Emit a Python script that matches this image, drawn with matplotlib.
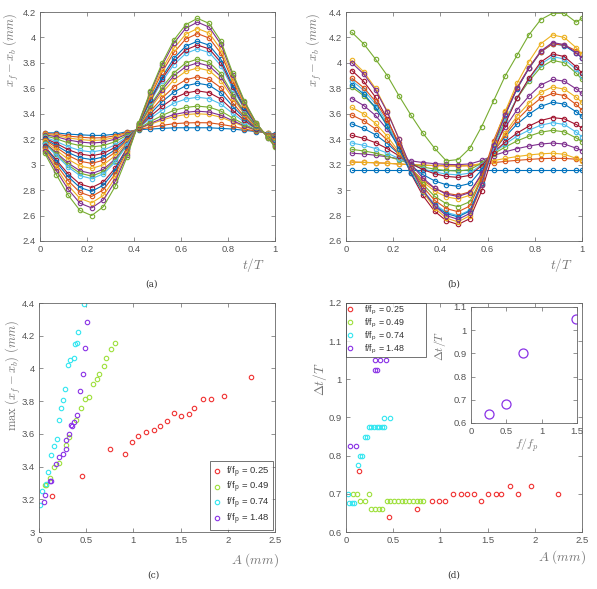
import matplotlib
matplotlib.use('Agg')
import matplotlib.pyplot as plt
from matplotlib.ticker import FuncFormatter, MultipleLocator

plt.rcParams['font.family'] = ['Liberation Sans', 'DejaVu Sans']
plt.rcParams['mathtext.fontset'] = 'cm'

# ---------------- data: panel (a)  (f/fp = 0.49) ----------------
t_a = [0.02, 0.07, 0.12, 0.17, 0.22, 0.27, 0.32, 0.37, 0.42, 0.47, 0.52,
       0.57, 0.62, 0.67, 0.72, 0.77, 0.82, 0.87, 0.92, 0.97, 1.00]
a01 = [3.25, 3.25, 3.24, 3.235, 3.23, 3.23, 3.24, 3.26, 3.275, 3.28, 3.285, 3.29, 3.29, 3.29, 3.29, 3.285, 3.28, 3.27, 3.26, 3.25, 3.24]
a02 = [3.245, 3.239, 3.225, 3.216, 3.21, 3.212, 3.227, 3.254, 3.277, 3.294, 3.309, 3.322, 3.328, 3.33, 3.329, 3.317, 3.301, 3.281, 3.263, 3.248, 3.235]
a03 = [3.24, 3.229, 3.21, 3.198, 3.19, 3.195, 3.214, 3.247, 3.28, 3.318, 3.351, 3.378, 3.394, 3.40, 3.395, 3.373, 3.336, 3.299, 3.269, 3.245, 3.227]
a04 = [3.235, 3.219, 3.194, 3.178, 3.17, 3.177, 3.201, 3.241, 3.282, 3.325, 3.363, 3.394, 3.412, 3.42, 3.414, 3.388, 3.346, 3.305, 3.271, 3.244, 3.225]
a05 = [3.227, 3.203, 3.171, 3.15, 3.14, 3.15, 3.181, 3.231, 3.284, 3.339, 3.387, 3.427, 3.45, 3.46, 3.452, 3.421, 3.367, 3.316, 3.274, 3.242, 3.22]
a06 = [3.217, 3.182, 3.141, 3.112, 3.10, 3.115, 3.156, 3.219, 3.288, 3.364, 3.429, 3.483, 3.516, 3.53, 3.519, 3.476, 3.403, 3.334, 3.28, 3.239, 3.212]
a07 = [3.209, 3.166, 3.118, 3.084, 3.07, 3.088, 3.136, 3.209, 3.291, 3.381, 3.459, 3.523, 3.563, 3.58, 3.566, 3.516, 3.428, 3.348, 3.284, 3.237, 3.206]
a08 = [3.202, 3.15, 3.095, 3.055, 3.04, 3.061, 3.116, 3.20, 3.295, 3.402, 3.495, 3.571, 3.62, 3.64, 3.624, 3.564, 3.459, 3.364, 3.288, 3.234, 3.199]
a09 = [3.194, 3.135, 3.072, 3.027, 3.01, 3.035, 3.097, 3.19, 3.297, 3.42, 3.524, 3.611, 3.667, 3.69, 3.671, 3.604, 3.485, 3.377, 3.293, 3.231, 3.193]
a10 = [3.184, 3.114, 3.042, 2.989, 2.97, 2.999, 3.071, 3.177, 3.301, 3.444, 3.567, 3.667, 3.733, 3.76, 3.739, 3.66, 3.521, 3.396, 3.298, 3.228, 3.185]
a11 = [3.174, 3.093, 3.012, 2.952, 2.93, 2.963, 3.045, 3.165, 3.304, 3.458, 3.59, 3.699, 3.77, 3.80, 3.776, 3.691, 3.541, 3.406, 3.302, 3.226, 3.181]
a12 = [3.169, 3.082, 2.996, 2.933, 2.91, 2.946, 3.032, 3.158, 3.306, 3.468, 3.608, 3.723, 3.799, 3.83, 3.805, 3.715, 3.556, 3.414, 3.304, 3.225, 3.177]
a13 = [3.164, 3.072, 2.981, 2.914, 2.89, 2.928, 3.019, 3.152, 3.31, 3.496, 3.656, 3.787, 3.874, 3.91, 3.881, 3.779, 3.597, 3.436, 3.31, 3.221, 3.168]
a14 = [3.146, 3.035, 2.928, 2.848, 2.82, 2.865, 2.973, 3.13, 3.314, 3.507, 3.674, 3.812, 3.902, 3.94, 3.91, 3.803, 3.613, 3.444, 3.313, 3.22, 3.164]
a15 = [3.138, 3.02, 2.905, 2.82, 2.79, 2.839, 2.954, 3.12, 3.316, 3.517, 3.692, 3.836, 3.931, 3.97, 3.939, 3.827, 3.628, 3.452, 3.315, 3.218, 3.161]
a16 = [3.128, 2.999, 2.874, 2.782, 2.75, 2.803, 2.928, 3.108, 3.32, 3.538, 3.728, 3.883, 3.987, 4.03, 3.995, 3.874, 3.658, 3.468, 3.32, 3.216, 3.154]
a17 = [3.115, 2.972, 2.836, 2.735, 2.70, 2.759, 2.895, 3.092, 3.323, 3.552, 3.752, 3.916, 4.025, 4.07, 4.034, 3.906, 3.679, 3.479, 3.323, 3.214, 3.149]
a18 = [3.105, 2.951, 2.806, 2.697, 2.66, 2.723, 2.869, 3.079, 3.326, 3.57, 3.782, 3.956, 4.072, 4.12, 4.081, 3.946, 3.705, 3.492, 3.328, 3.211, 3.143]
a19 = [3.09, 2.92, 2.76, 2.64, 2.60, 2.67, 2.83, 3.06, 3.33, 3.58, 3.80, 3.98, 4.10, 4.15, 4.11, 3.97, 3.72, 3.50, 3.33, 3.21, 3.14]
curves_a = [a01, a02, a03, a04, a05, a06, a07, a08, a09, a10,
            a11, a12, a13, a14, a15, a16, a17, a18, a19]

# ---------------- data: panel (b)  (f/fp = 0.74) ----------------
t_b = [0.025, 0.075, 0.125, 0.175, 0.225, 0.275, 0.325, 0.375, 0.425, 0.475, 0.525,
       0.575, 0.625, 0.675, 0.725, 0.775, 0.825, 0.875, 0.925, 0.975, 1.00]
b01 = [3.16, 3.16, 3.16, 3.16, 3.16, 3.16, 3.16, 3.16, 3.16, 3.16, 3.16, 3.16, 3.16, 3.16, 3.16, 3.16, 3.16, 3.16, 3.16, 3.16, 3.16]
b02 = [3.22, 3.218, 3.215, 3.211, 3.205, 3.20, 3.196, 3.193, 3.191, 3.19, 3.192, 3.202, 3.215, 3.226, 3.234, 3.241, 3.247, 3.25, 3.249, 3.243, 3.24]
b03 = [3.22, 3.218, 3.215, 3.211, 3.205, 3.20, 3.196, 3.193, 3.191, 3.19, 3.193, 3.21, 3.232, 3.249, 3.264, 3.276, 3.285, 3.29, 3.282, 3.25, 3.23]
b04 = [3.29, 3.284, 3.274, 3.262, 3.246, 3.23, 3.217, 3.208, 3.202, 3.20, 3.206, 3.233, 3.272, 3.301, 3.326, 3.346, 3.362, 3.37, 3.362, 3.33, 3.31]
b05 = [3.32, 3.308, 3.291, 3.266, 3.237, 3.206, 3.182, 3.165, 3.154, 3.15, 3.161, 3.213, 3.285, 3.339, 3.387, 3.424, 3.455, 3.47, 3.458, 3.41, 3.38]
b06 = [3.37, 3.352, 3.327, 3.291, 3.248, 3.203, 3.167, 3.142, 3.126, 3.12, 3.134, 3.201, 3.293, 3.363, 3.424, 3.471, 3.51, 3.53, 3.516, 3.456, 3.42]
b07 = [3.43, 3.407, 3.373, 3.326, 3.269, 3.209, 3.162, 3.129, 3.108, 3.10, 3.116, 3.193, 3.298, 3.378, 3.448, 3.503, 3.547, 3.57, 3.56, 3.516, 3.49]
b08 = [3.52, 3.485, 3.435, 3.366, 3.281, 3.192, 3.123, 3.073, 3.042, 3.03, 3.052, 3.16, 3.309, 3.421, 3.519, 3.596, 3.658, 3.69, 3.676, 3.616, 3.58]
b09 = [3.59, 3.545, 3.481, 3.392, 3.283, 3.169, 3.079, 3.015, 2.975, 2.96, 2.987, 3.118, 3.298, 3.434, 3.553, 3.646, 3.722, 3.76, 3.743, 3.673, 3.63]
b10 = [3.65, 3.599, 3.525, 3.423, 3.299, 3.168, 3.066, 2.993, 2.947, 2.93, 2.96, 3.103, 3.301, 3.451, 3.582, 3.684, 3.768, 3.81, 3.794, 3.73, 3.69]
b11 = [3.72, 3.665, 3.587, 3.477, 3.344, 3.205, 3.096, 3.017, 2.968, 2.95, 2.981, 3.131, 3.338, 3.495, 3.632, 3.738, 3.826, 3.87, 3.856, 3.796, 3.76]
b12 = [3.81, 3.743, 3.647, 3.514, 3.351, 3.181, 3.048, 2.952, 2.893, 2.87, 2.909, 3.097, 3.355, 3.551, 3.722, 3.856, 3.965, 4.02, 4.001, 3.92, 3.87]
b13 = [3.86, 3.785, 3.677, 3.526, 3.343, 3.151, 3.00, 2.892, 2.825, 2.80, 2.843, 3.046, 3.328, 3.54, 3.726, 3.871, 3.99, 4.05, 4.03, 3.95, 3.90]
b14 = [3.94, 3.854, 3.731, 3.559, 3.35, 3.131, 2.959, 2.835, 2.759, 2.73, 2.776, 2.994, 3.295, 3.523, 3.723, 3.878, 4.006, 4.07, 4.05, 3.97, 3.92]
b15 = [3.83, 3.756, 3.65, 3.502, 3.322, 3.134, 2.987, 2.88, 2.815, 2.79, 2.836, 3.058, 3.364, 3.595, 3.798, 3.956, 4.085, 4.15, 4.136, 4.076, 4.04]
b16 = [3.88, 3.805, 3.698, 3.549, 3.368, 3.178, 3.028, 2.921, 2.855, 2.83, 2.875, 3.09, 3.387, 3.611, 3.808, 3.961, 4.087, 4.15, 4.14, 4.096, 4.07]
b17 = [4.02, 3.93, 3.80, 3.62, 3.40, 3.17, 2.99, 2.86, 2.78, 2.75, 2.80, 3.04, 3.37, 3.62, 3.84, 4.01, 4.15, 4.22, 4.20, 4.12, 4.07]
b18 = [4.00, 3.913, 3.787, 3.613, 3.40, 3.177, 3.002, 2.877, 2.80, 2.77, 2.817, 3.044, 3.357, 3.593, 3.80, 3.961, 4.093, 4.16, 4.144, 4.08, 4.04]
b19 = [4.24, 4.15, 4.03, 3.90, 3.74, 3.59, 3.45, 3.33, 3.23, 3.24, 3.33, 3.50, 3.70, 3.90, 4.06, 4.22, 4.34, 4.39, 4.39, 4.32, 4.35]
curves_b = [b01, b02, b03, b04, b05, b06, b07, b08, b09, b10,
            b11, b12, b13, b14, b15, b16, b17, b18, b19]

# ---------------- data: panel (c) ----------------
A_c_025 = [0.141, 0.451, 0.751, 0.906, 0.98, 1.054, 1.132, 1.213, 1.287, 1.354, 1.428, 1.509, 1.587, 1.643, 1.738, 1.82, 1.957, 2.25]
M_c_025 = [3.222, 3.344, 3.505, 3.479, 3.548, 3.589, 3.609, 3.626, 3.648, 3.681, 3.728, 3.711, 3.719, 3.758, 3.815, 3.815, 3.829, 3.946]
A_c_049 = [0.063, 0.074, 0.12, 0.159, 0.208, 0.283, 0.314, 0.389, 0.445, 0.487, 0.526, 0.569, 0.611, 0.639, 0.685, 0.713, 0.763, 0.805]
M_c_049 = [3.29, 3.29, 3.33, 3.40, 3.42, 3.53, 3.583, 3.685, 3.758, 3.815, 3.827, 3.907, 3.937, 3.966, 4.015, 4.064, 4.117, 4.154]
A_c_074 = [0.015, 0.037, 0.071, 0.095, 0.131, 0.159, 0.191, 0.212, 0.23, 0.251, 0.272, 0.311, 0.332, 0.367, 0.378, 0.406, 0.41, 0.477]
M_c_074 = [3.165, 3.248, 3.292, 3.369, 3.469, 3.526, 3.567, 3.687, 3.76, 3.807, 3.872, 4.019, 4.052, 4.066, 4.147, 4.157, 4.221, 4.394]
A_c_148 = [0.05, 0.067, 0.117, 0.131, 0.177, 0.212, 0.258, 0.283, 0.283, 0.314, 0.339, 0.35, 0.371, 0.403, 0.431, 0.462, 0.491, 0.508]
M_c_148 = [3.186, 3.226, 3.31, 3.31, 3.416, 3.46, 3.479, 3.51, 3.563, 3.599, 3.652, 3.65, 3.67, 3.717, 3.864, 3.966, 4.127, 4.286]

# ---------------- data: panel (d) ----------------
A_d_025 = [0.141, 0.451, 0.751, 0.906, 0.98, 1.054, 1.132, 1.213, 1.287, 1.354, 1.428, 1.509, 1.587, 1.643, 1.738, 1.82, 1.957, 2.25]
dt_d_025 = [0.76, 0.64, 0.66, 0.68, 0.68, 0.68, 0.70, 0.70, 0.70, 0.70, 0.68, 0.70, 0.70, 0.70, 0.72, 0.70, 0.72, 0.70]
A_d_049 = [0.074, 0.117, 0.244, 0.148, 0.20, 0.265, 0.305, 0.345, 0.385, 0.43, 0.47, 0.51, 0.55, 0.59, 0.63, 0.67, 0.71, 0.75, 0.785, 0.82]
dt_d_049 = [0.70, 0.70, 0.70, 0.68, 0.68, 0.66, 0.66, 0.66, 0.66, 0.68, 0.68, 0.68, 0.68, 0.68, 0.68, 0.68, 0.68, 0.68, 0.68, 0.68]
A_d_074 = [0.018, 0.03, 0.06, 0.088, 0.124, 0.148, 0.173, 0.205, 0.22, 0.244, 0.27, 0.297, 0.325, 0.352, 0.379, 0.406, 0.40, 0.466]
dt_d_074 = [0.70, 0.675, 0.675, 0.675, 0.775, 0.80, 0.80, 0.85, 0.85, 0.875, 0.875, 0.875, 0.875, 0.875, 0.875, 0.875, 0.90, 0.90]
A_d_148 = [0.039, 0.109, 0.307, 0.332, 0.307, 0.364, 0.427]
dt_d_148 = [0.825, 0.825, 1.025, 1.025, 1.05, 1.05, 1.05]

# inset
f_ratio = [0.25, 0.49, 0.74, 1.48]
dt_mean = [0.64, 0.68, 0.90, 1.05]

legend_labels = [r'f/f$_\mathregular{p}$ = 0.25', r'f/f$_\mathregular{p}$ = 0.49',
                 r'f/f$_\mathregular{p}$ = 0.74', r'f/f$_\mathregular{p}$ = 1.48']

# ---------------- styling ----------------
W, H = 597, 589
fig = plt.figure(figsize=(W / 100, H / 100), dpi=100)

matlab = ['#0072BD', '#D95319', '#EDB120', '#7E2F8E', '#77AC30', '#4DBEEE', '#A2142F']
sc_cols = ['#f03232', '#9ee03c', '#32e6f0', '#8a32e6']
SPINE = '#666666'
TXT = '#555555'
LBL = '#777777'
TICKFS = 6.8


def px_axes(l, t, r, b):
    return fig.add_axes([l / W, 1 - b / H, (r - l) / W, (b - t) / H])


fmt = FuncFormatter(lambda v, p: '%g' % round(v, 4))


def style(ax, xlim, ylim, xstep, ystep, fs=TICKFS):
    ax.set_xlim(*xlim)
    ax.set_ylim(*ylim)
    ax.xaxis.set_major_locator(MultipleLocator(xstep))
    ax.yaxis.set_major_locator(MultipleLocator(ystep))
    ax.xaxis.set_major_formatter(fmt)
    ax.yaxis.set_major_formatter(fmt)
    ax.tick_params(direction='in', length=3, width=0.5, top=True, right=True,
                   labelsize=fs, colors=SPINE, labelcolor=TXT, pad=3)
    for s in ax.spines.values():
        s.set_color(SPINE)
        s.set_linewidth(0.6)


def ftext(x, y, s, **kw):
    fig.text(x / W, 1 - y / H, s, ha='center', va='center', **kw)


# ---------------- panel (a) ----------------
ax = px_axes(40, 12, 275, 241)
for i, c in enumerate(curves_a):
    ax.plot(t_a, c, '-o', color=matlab[i % 7], lw=0.8, ms=3.2, mfc='none', mew=0.8)
style(ax, (0, 1), (2.4, 4.2), 0.2, 0.2)
ftext(11.5, 50, r'$x_f - x_b\ (mm)$', rotation=90, fontsize=9, color=LBL)
ftext(253, 265, r'$t/T$', fontsize=9.5, color=LBL)
ftext(152, 284, '(a)', fontsize=6.5, family='DejaVu Serif', color='#333333')

# ---------------- panel (b) ----------------
ax = px_axes(346, 12, 582, 241)
for i, c in enumerate(curves_b):
    ax.plot(t_b, c, '-o', color=matlab[i % 7], lw=0.8, ms=3.2, mfc='none', mew=0.8)
style(ax, (0, 1), (2.6, 4.4), 0.2, 0.2)
ftext(314, 50, r'$x_f - x_b\ (mm)$', rotation=90, fontsize=9, color=LBL)
ftext(561, 265, r'$t/T$', fontsize=9.5, color=LBL)
ftext(454, 284, '(b)', fontsize=6.5, family='DejaVu Serif', color='#333333')

# ---------------- panel (c) ----------------
ax = px_axes(39, 303, 275, 532)
for A, M, col, lab in zip([A_c_025, A_c_049, A_c_074, A_c_148],
                          [M_c_025, M_c_049, M_c_074, M_c_148], sc_cols, legend_labels):
    ax.plot(A, M, 'o', ls='none', color=col, ms=3.2, mfc='none', mew=0.8, label=lab)
style(ax, (0, 2.5), (3, 4.4), 0.5, 0.2)
leg = ax.legend(loc='lower right', fontsize=6.8, frameon=True, fancybox=False,
                borderaxespad=0.2, handlelength=0.8, handletextpad=0.6,
                borderpad=0.35, labelspacing=0.05, edgecolor='#333333')
leg.get_frame().set_linewidth(0.6)
for tx in leg.get_texts():
    tx.set_color('#333333')
ftext(13, 376, r'$\max\ (x_f - x_b)\ (mm)$', rotation=90, fontsize=9, color=LBL)
ftext(255, 560, r'$A\ (mm)$', fontsize=9.5, color=LBL)
ftext(153, 575, '(c)', fontsize=6.5, family='DejaVu Serif', color='#333333')

# ---------------- panel (d) ----------------
ax = px_axes(346, 303, 582, 532)
for A, D, col, lab in zip([A_d_025, A_d_049, A_d_074, A_d_148],
                          [dt_d_025, dt_d_049, dt_d_074, dt_d_148], sc_cols, legend_labels):
    ax.plot(A, D, 'o', ls='none', color=col, ms=3.2, mfc='none', mew=0.8, label=lab)
style(ax, (0, 2.5), (0.6, 1.2), 0.5, 0.1)
leg = ax.legend(loc='upper left', bbox_to_anchor=(0, 1, 80 / 236, 0), mode='expand',
                fontsize=6.4, frameon=True, fancybox=False,
                borderaxespad=0.0, handlelength=0.8, handletextpad=1.1,
                borderpad=0.1, labelspacing=-0.02, edgecolor='#333333')
leg.get_frame().set_linewidth(0.6)
for tx in leg.get_texts():
    tx.set_color('#333333')
ftext(320, 379, r'$\Delta t/T$', rotation=90, fontsize=9.5, color=LBL)
ftext(562, 557, r'$A\ (mm)$', fontsize=9.5, color=LBL)
ftext(454, 575, '(d)', fontsize=6.5, family='DejaVu Serif', color='#333333')

# inset
axi = px_axes(471, 307, 577, 423)
axi.plot(f_ratio, dt_mean, 'o', ls='none', color=sc_cols[3], ms=6.5, mfc='none', mew=0.9)
style(axi, (0, 1.5), (0.6, 1.1), 0.5, 0.1)
ftext(440, 346, r'$\Delta t/T$', rotation=90, fontsize=8.5, color=LBL)
ftext(527, 445, r'$f/f_p$', fontsize=8.5, color=LBL)

fig.savefig('out.png', dpi=100)
